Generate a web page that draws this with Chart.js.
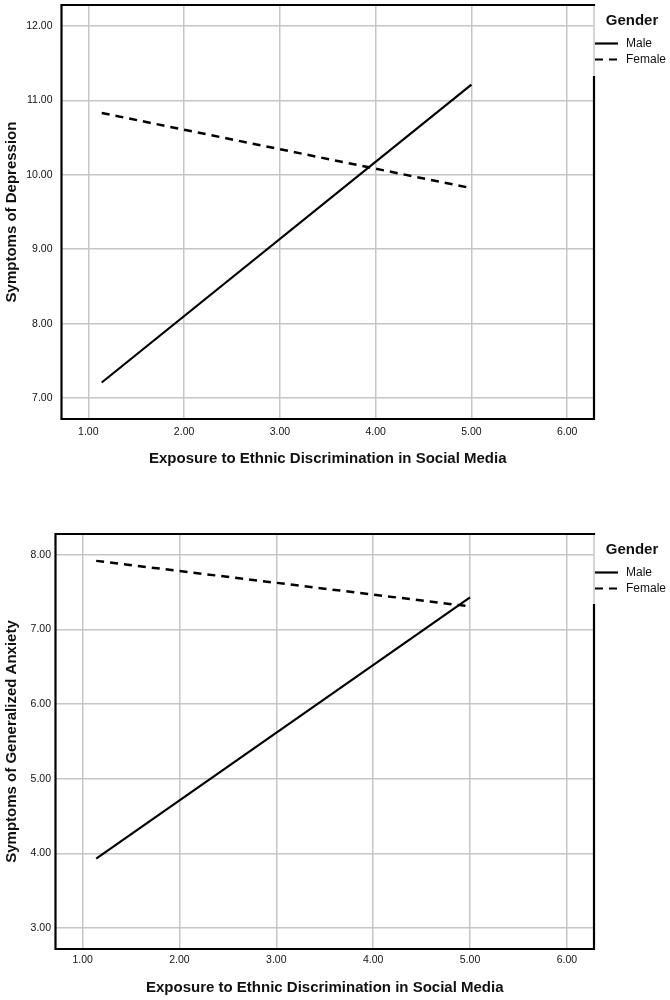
<!DOCTYPE html>
<html><head><meta charset="utf-8">
<script src="https://cdn.jsdelivr.net/npm/chart.js@4.4.1/dist/chart.umd.min.js"></script>
<style>
html,body{margin:0;padding:0;background:#fff;}
.wrap{position:absolute;left:0;width:670px;height:500px;}
canvas{display:block;}
</style>
</head><body>
<div class="wrap" style="top:0"><canvas id="c1" width="670" height="500"></canvas></div>
<div class="wrap" style="top:500px"><canvas id="c2" width="670" height="500"></canvas></div>
<script>
const xValues = [1.14, 5.00];
const depressionMale = [7.21, 11.21];
const depressionFemale = [10.83, 9.82];
const anxietyMale = [3.93, 7.43];
const anxietyFemale = [7.92, 7.31];
const xTicks = [1, 2, 3, 4, 5, 6];
const xTickLabels = ['1.00', '2.00', '3.00', '4.00', '5.00', '6.00'];
const depressionTicks = [7, 8, 9, 10, 11, 12];
const depressionTickLabels = ['7.00', '8.00', '9.00', '10.00', '11.00', '12.00'];
const anxietyTicks = [3, 4, 5, 6, 7, 8];
const anxietyTickLabels = ['3.00', '4.00', '5.00', '6.00', '7.00', '8.00'];
const seriesLabels = ['Male', 'Female'];
const legendTitle = 'Gender';
const xTitle = 'Exposure to Ethnic Discrimination in Social Media';
const depressionTitle = 'Symptoms of Depression';
const anxietyTitle = 'Symptoms of Generalized Anxiety';

const FONT = "'Liberation Sans', Arial, sans-serif";
const GRID = '#c6c6c6';

function framePlugin(gap) {
  return {
    id: 'frameLegend',
    afterDatasetsDraw(chart) {
      const ctx = chart.ctx, a = chart.chartArea;
      ctx.save();
      ctx.strokeStyle = GRID; ctx.lineWidth = 1.5;
      ctx.beginPath(); ctx.moveTo(a.right, a.top); ctx.lineTo(a.right, a.top + gap); ctx.stroke();
      ctx.strokeStyle = '#000'; ctx.lineWidth = 2.2; ctx.lineCap = 'square';
      ctx.beginPath();
      ctx.moveTo(a.right, a.top + gap);
      ctx.lineTo(a.right, a.bottom);
      ctx.lineTo(a.left, a.bottom);
      ctx.lineTo(a.left, a.top);
      ctx.lineTo(a.right, a.top);
      ctx.stroke();
      ctx.lineCap = 'butt';
      ctx.fillStyle = '#111';
      ctx.font = 'bold 15px ' + FONT;
      ctx.textAlign = 'center'; ctx.textBaseline = 'middle';
      ctx.fillText(legendTitle, a.right + 38, a.top + 16);
      ctx.font = '12px ' + FONT;
      ctx.textAlign = 'left';
      const rows = [a.top + 38.5, a.top + 54.5];
      chart.data.datasets.forEach((ds, i) => {
        ctx.strokeStyle = '#000'; ctx.lineWidth = 2.2;
        ctx.setLineDash(ds.borderDash || []);
        ctx.beginPath(); ctx.moveTo(a.right + 1, rows[i]); ctx.lineTo(a.right + 24, rows[i]); ctx.stroke();
        ctx.setLineDash([]);
        ctx.fillText(ds.label, a.right + 32, rows[i]);
      });
      ctx.restore();
    }
  };
}

function makeChart(id, male, female, yTicks, yTickLabels, yTitle, o) {
  return new Chart(document.getElementById(id), {
    type: 'line',
    data: {
      datasets: [
        { label: seriesLabels[0], data: xValues.map((x, i) => ({ x: x, y: male[i] })),
          borderColor: '#000', borderWidth: 2.2, pointRadius: 0, fill: false, tension: 0 },
        { label: seriesLabels[1], data: xValues.map((x, i) => ({ x: x, y: female[i] })),
          borderColor: '#000', borderWidth: 2.5, borderDash: [8, 6], pointRadius: 0, fill: false, tension: 0 }
      ]
    },
    options: {
      responsive: false, animation: false, devicePixelRatio: 1,
      layout: { padding: { top: o.top, right: 76, bottom: o.bottom, left: 0 } },
      plugins: { legend: { display: false }, tooltip: { enabled: false } },
      scales: {
        x: {
          type: 'linear', min: 0.72, max: 6.28,
          afterBuildTicks: s => { s.ticks = xTicks.map(v => ({ value: v })); },
          afterFit: s => { s.height = o.xHeight; s.paddingLeft = 0; s.paddingRight = 0; },
          grid: { color: GRID, lineWidth: 1.5, drawTicks: false },
          border: { display: false },
          ticks: { padding: o.xPad, autoSkip: false, maxRotation: 0, color: '#111',
                   font: { family: FONT, size: 10.5 }, callback: (v, i) => xTickLabels[i] },
          title: { display: true, text: xTitle, color: '#111',
                   font: { family: FONT, size: 15, weight: 'bold' }, padding: { top: 0, bottom: o.xTitlePad } }
        },
        y: {
          type: 'linear', min: o.ymin, max: o.ymax,
          afterBuildTicks: s => { s.ticks = yTicks.map(v => ({ value: v })); },
          afterFit: s => { s.width = o.yWidth; s.paddingTop = 0; s.paddingBottom = 0; },
          grid: { color: GRID, lineWidth: 1.5, drawTicks: false },
          border: { display: false },
          ticks: { padding: o.yPad, autoSkip: false, color: '#111',
                   font: { family: FONT, size: 10.5 }, callback: (v, i) => yTickLabels[i] },
          title: { display: true, text: yTitle, color: '#111',
                   font: { family: FONT, size: 15, weight: 'bold' }, padding: { top: 3, bottom: 0 } }
        }
      }
    },
    plugins: [framePlugin(o.gap)]
  });
}

makeChart('c1', depressionMale, depressionFemale, depressionTicks, depressionTickLabels, depressionTitle,
  { top: 5, bottom: 21, xHeight: 60, xPad: 6.5, xTitlePad: 11, yWidth: 61.5, yPad: 9, ymin: 6.72, ymax: 12.28, gap: 72 });
makeChart('c2', anxietyMale, anxietyFemale, anxietyTicks, anxietyTickLabels, anxietyTitle,
  { top: 34, bottom: 0, xHeight: 51, xPad: 5, xTitlePad: 3, yWidth: 55.5, yPad: 4.5, ymin: 2.72, ymax: 8.28, gap: 71 });
</script>
</body></html>
